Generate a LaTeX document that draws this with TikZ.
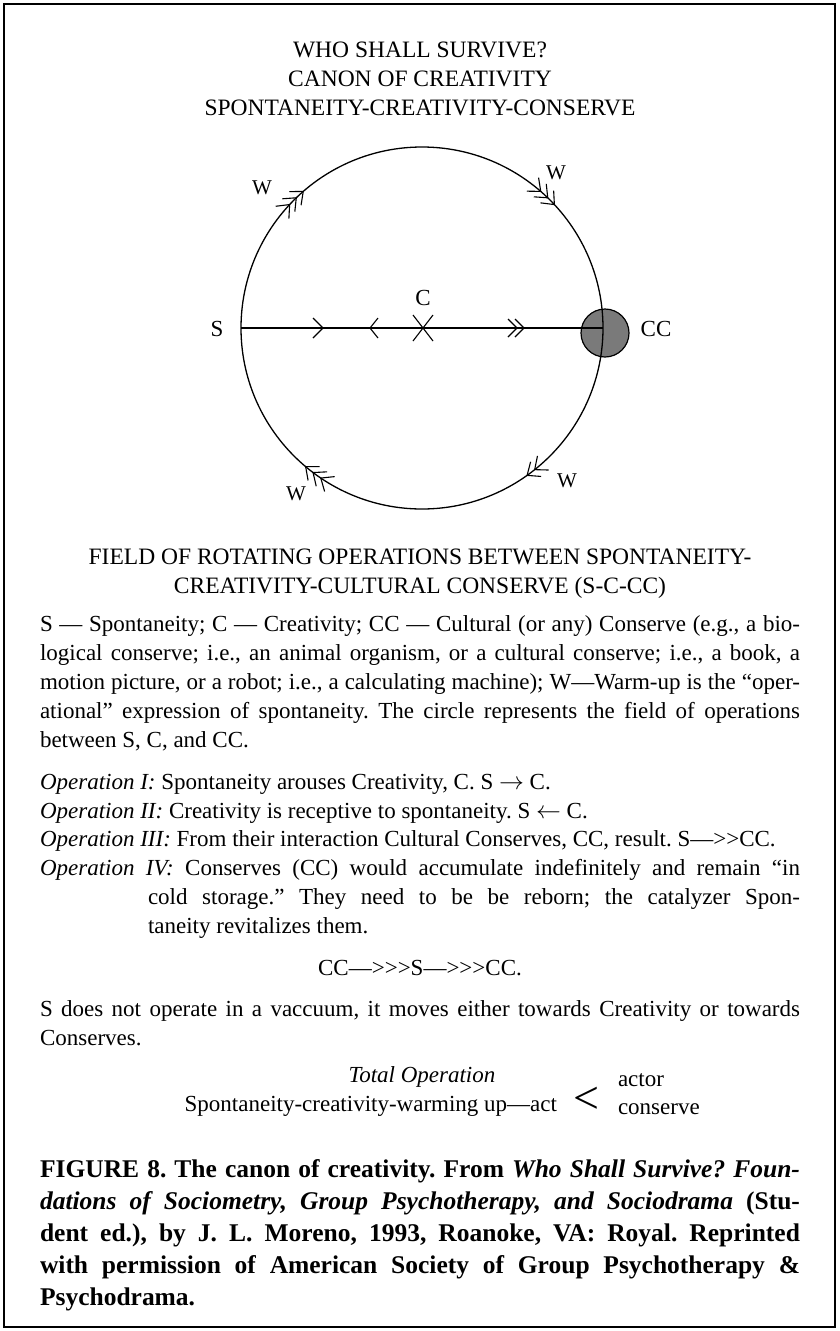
\documentclass[tikz,border=0pt]{standalone}
\usepackage{fontspec}
\setmainfont{Liberation Serif}
\usetikzlibrary{calc}
\newcommand\bodyf{\fontsize{23}{29}\selectfont}
\newcommand\headf{\fontsize{23.5}{29}\selectfont}
\newcommand\capf{\fontsize{25.5}{32}\selectfont\bfseries}
\newcommand\wf{\fontsize{21}{21}\selectfont}
\newcommand\jl[2]{\makebox[#1][s]{#2}}
\newcommand\GTc{\mbox{>}}
\definecolor{ccfill}{HTML}{7A7A7A}
\begin{document}
\frenchspacing
\begin{tikzpicture}[x=1pt,y=1pt,
  txt/.style={inner sep=0pt,outer sep=0pt,font=\bodyf},
  head/.style={txt,font=\headf,anchor=base},
  bl/.style={txt,anchor=base west},
  captxt/.style={txt,font=\capf,anchor=base west},
  lbl/.style={txt,anchor=base},
  wl/.style={txt,font=\wf,anchor=base},
  ln/.style={line width=1.3pt},
  chev/.style={line width=1.1pt},
]
\useasboundingbox (0,0) rectangle (839,-1331);
\draw[line width=2pt] (4,-4) rectangle (835,-1327);

% titles
\node[head] (t1) at (420,-57) {WHO SHALL SURVIVE?};
\node[head] (t2) at (420,-86) {CANON OF CREATIVITY};
\node[head] (t3) at (420,-115) {SPONTANEITY-CREATIVITY-CONSERVE};

% diagram
\coordinate (O) at (422,-328);
\filldraw[fill=ccfill,draw=black,line width=1.2pt] (605,-333) circle (24);
\draw[ln] (O) circle (181);
\coordinate (Sp) at (241,-328);
\coordinate (CCp) at (603,-328);
\draw[ln] (Sp) -- (CCp);

\draw[chev] (313,-318) -- (323,-328) -- (313,-338);
\draw[chev] (378,-318) -- (370,-328) -- (378,-338);
\draw[chev] (508,-319) -- (517,-328) -- (508,-337);
\draw[chev] (515,-319) -- (524,-328) -- (515,-337);
\draw[chev] (413,-315) -- (433,-341);
\draw[chev] (433,-315) -- (413,-341);

\foreach \t/\n in {131/3, 43/3, -54.5/2, -130/3}{
  \foreach \i in {1,...,\n}{
    \pgfmathsetmacro\a{\t+(\i-1)*3}
    \draw[chev] ($(O)+(\a:181)+(\a+130:14)$) -- ($(O)+(\a:181)$) -- ($(O)+(\a:181)+(\a+50:14)$);
  }
}

\node[lbl] (S) at (217,-336) {S};
\node[lbl] (C) at (423,-305) {C};
\node[lbl] (CC) at (656,-336) {CC};
\node[wl] (w1) at (262,-194) {W};
\node[wl] (w2) at (556,-179) {W};
\node[wl] (w3) at (567,-487) {W};
\node[wl] (w4) at (296,-500) {W};

% field heading
\node[head] (h1) at (420,-564) {FIELD OF ROTATING OPERATIONS BETWEEN SPONTANEITY-};
\node[head] (h2) at (420,-593) {CREATIVITY-CULTURAL CONSERVE (S-C-CC)};

% paragraph
\node[bl] (p1) at (40,-631) {\jl{760pt}{S — Spontaneity; C — Creativity; CC — Cultural (or any) Conserve (e.g., a bio-}};
\node[bl] (p2) at (40,-660) {\jl{760pt}{logical conserve; i.e., an animal organism, or a cultural conserve; i.e., a book, a}};
\node[bl] (p3) at (40,-689) {\jl{760pt}{motion picture, or a robot; i.e., a calculating machine); W—Warm-up is the “oper-}};
\node[bl] (p4) at (40,-718) {\jl{760pt}{ational” expression of spontaneity. The circle represents the field of operations}};
\node[bl] (p5) at (40,-747) {between S, C, and CC.};

% operations
\node[bl] (o1) at (40,-789) {\textit{Operation I:} Spontaneity arouses Creativity, C. S $\rightarrow$ C.};
\node[bl] (o2) at (40,-818) {\textit{Operation II:} Creativity is receptive to spontaneity. S $\leftarrow$ C.};
\node[bl] (o3) at (40,-846) {\textit{Operation III:} From their interaction Cultural Conserves, CC, result. S—\GTc\GTc CC.};
\node[bl] (o4) at (40,-875) {\jl{760pt}{\textit{Operation IV:} Conserves (CC) would accumulate indefinitely and remain “in}};
\node[bl] (o5) at (148,-904) {\jl{652pt}{cold storage.” They need to be be reborn; the catalyzer Spon-}};
\node[bl] (o6) at (148,-933) {taneity revitalizes them.};
\node[lbl] (ccs) at (420,-975) {CC—\GTc\GTc\GTc S—\GTc\GTc\GTc CC.};
\node[bl] (s1) at (40,-1016) {\jl{760pt}{S does not operate in a vaccuum, it moves either towards Creativity or towards}};
\node[bl] (s2) at (40,-1045) {Conserves.};
\node[lbl] (to) at (422,-1082) {\textit{Total Operation}};
\node[txt,anchor=base east] (sp) at (557,-1111) {Spontaneity-creativity-warming up—act};
\node[txt,font=\fontsize{46}{46}\selectfont] (lt) at (586,-1100) {<};
\node[bl] (ac) at (618,-1086) {actor};
\node[bl] (co) at (618,-1114) {conserve};

% caption
\node[captxt] (f1) at (40,-1177) {\jl{760pt}{FIGURE 8. The canon of creativity. From \textit{Who Shall Survive? Foun-}}};
\node[captxt] (f2) at (40,-1209) {\jl{760pt}{\textit{dations of Sociometry, Group Psychotherapy, and Sociodrama} (Stu-}};
\node[captxt] (f3) at (40,-1241) {\jl{760pt}{dent ed.), by J. L. Moreno, 1993, Roanoke, VA: Royal. Reprinted}};
\node[captxt] (f4) at (40,-1273) {\jl{760pt}{with permission of American Society of Group Psychotherapy \&}};
\node[captxt] (f5) at (40,-1305) {Psychodrama.};
\end{tikzpicture}
\end{document}
